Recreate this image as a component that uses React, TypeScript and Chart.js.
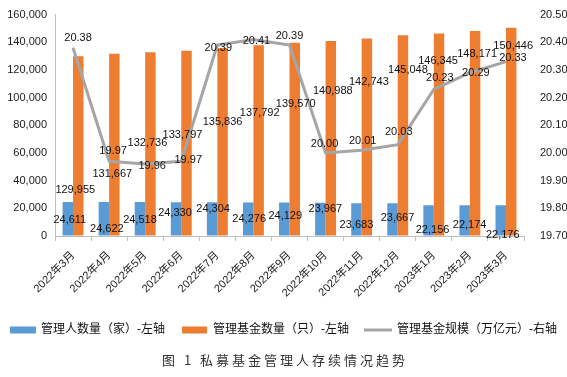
import React, { useEffect, useRef } from 'react';
import { Chart, registerables } from 'chart.js';

Chart.register(...registerables);

const categories = [
  '2022年3月', '2022年4月', '2022年5月', '2022年6月', '2022年7月', '2022年8月', '2022年9月',
  '2022年10月', '2022年11月', '2022年12月', '2023年1月', '2023年2月', '2023年3月',
];
const managerCount = [24611, 24622, 24518, 24330, 24304, 24276, 24129, 23967, 23683, 23667, 22156, 22174, 22176];
const fundCount = [129955, 131667, 132736, 133797, 135836, 137792, 139570, 140988, 142743, 145048, 146345, 148171, 150446];
const fundScale = [20.38, 19.97, 19.96, 19.97, 20.39, 20.41, 20.39, 20.0, 20.01, 20.03, 20.23, 20.29, 20.33];

const seriesNames = ['管理人数量（家）-左轴', '管理基金数量（只）-左轴', '管理基金规模（万亿元）-右轴'];
const titleText = '图 1 私募基金管理人存续情况趋势';

const leftMin = 0;
const leftMax = 160000;
const leftStep = 20000;
const rightMin = 19.7;
const rightMax = 20.5;
const rightStep = 0.1;

// label offsets in px relative to each drawn mark (as placed in the reference)
const managerLabelOffsets: number[][] = [
  [2, 18], [3, 27], [0, 18], [-1, 11], [1, 7], [1, 17], [1, 13], [5, 6], [0, 22], [5, 15], [4, 25], [5, 20], [2, 30],
];
const fundLabelOffsets: number[][] = [
  [-3, 134], [-2, 120], [-3, 91], [-4, 84], [0, 74], [1, 68], [1, 61], [2, 50], [2, 43], [5, 35], [-1, 27], [2, 23], [2, 18],
];
const scaleLabelOffsets: number[][] = [
  [5, -10], [4, -10], [7, 2], [7, -1], [1, 3], [3, 1], [0, -9], [-1, -9], [1, -9], [1, -13], [6, -11], [6, 0], [7, -4],
];

const BLUE = '#5B9BD5';
const ORANGE = '#ED7D31';
const GRAY = '#A5A5A5';
const AXIS = '#BFBFBF';
const TEXT = '#1a1a1a';
const FONT = '"Liberation Sans", Arial, "Noto Sans CJK SC", sans-serif';

const fmtInt = (v: number) => v.toLocaleString('en-US');
const fmt2 = (v: number) => v.toFixed(2);

const decorPlugin = {
  id: 'decor',
  afterDatasetsDraw(chart: any) {
    const ctx = chart.ctx;
    ctx.save();
    ctx.font = '11px ' + FONT;
    ctx.fillStyle = '#111';
    ctx.textAlign = 'center';
    ctx.textBaseline = 'middle';
    const sets = [
      { i: 0, offs: managerLabelOffsets, f: fmtInt },
      { i: 1, offs: fundLabelOffsets, f: fmtInt },
      { i: 2, offs: scaleLabelOffsets, f: fmt2 },
    ];
    sets.forEach((s) => {
      const meta = chart.getDatasetMeta(s.i);
      const data = chart.data.datasets[s.i].data as number[];
      meta.data.forEach((el: any, j: number) => {
        ctx.fillText(s.f(data[j]), el.x + s.offs[j][0], el.y + s.offs[j][1]);
      });
    });
    ctx.restore();
  },
  afterDraw(chart: any) {
    const ctx = chart.ctx;
    ctx.save();
    const ly = 330;
    ctx.font = '12px ' + FONT;
    ctx.fillStyle = '#111';
    ctx.textAlign = 'left';
    ctx.textBaseline = 'middle';
    ctx.fillStyle = BLUE;
    ctx.fillRect(10, ly - 3.5, 26, 7);
    ctx.fillStyle = '#111';
    ctx.fillText(seriesNames[0], 41, ly);
    ctx.fillStyle = ORANGE;
    ctx.fillRect(182, ly - 3.5, 25, 7);
    ctx.fillStyle = '#111';
    ctx.fillText(seriesNames[1], 213, ly);
    ctx.strokeStyle = GRAY;
    ctx.lineWidth = 3;
    ctx.beginPath();
    ctx.moveTo(364, ly);
    ctx.lineTo(392, ly);
    ctx.stroke();
    ctx.fillText(seriesNames[2], 397, ly);
    ctx.font = '13px "Noto Sans CJK SC", sans-serif';
    ctx.fillStyle = '#333';
    ctx.textAlign = 'center';
    try { (ctx as any).letterSpacing = '3px'; } catch (e) {}
    ctx.fillText(titleText, 285, 360);
    ctx.restore();
  },
};

export default function App() {
  const ref = useRef<HTMLCanvasElement | null>(null);
  useEffect(() => {
    if (!ref.current) return;
    const chart = new Chart(ref.current, {
      type: 'bar',
      data: {
        labels: categories,
        datasets: [
          {
            type: 'bar',
            label: seriesNames[0],
            data: managerCount,
            backgroundColor: BLUE,
            yAxisID: 'y',
            barPercentage: 1,
            categoryPercentage: 0.58,
            order: 2,
          },
          {
            type: 'bar',
            label: seriesNames[1],
            data: fundCount,
            backgroundColor: ORANGE,
            yAxisID: 'y',
            barPercentage: 1,
            categoryPercentage: 0.58,
            order: 2,
          },
          {
            type: 'line',
            label: seriesNames[2],
            data: fundScale,
            borderColor: GRAY,
            borderWidth: 3,
            pointRadius: 0,
            tension: 0,
            yAxisID: 'y1',
            order: 0,
          } as any,
        ],
      },
      options: {
        responsive: false,
        maintainAspectRatio: false,
        animation: false,
        layout: { padding: { top: 12, left: 0, right: 0, bottom: 0 } },
        plugins: {
          legend: { display: false },
          tooltip: { enabled: false },
          title: { display: false },
        },
        scales: {
          x: {
            offset: true,
            grid: {
              display: true,
              offset: true,
              drawOnChartArea: false,
              drawTicks: true,
              tickLength: 5,
              color: AXIS,
            },
            border: { display: true, color: AXIS },
            ticks: {
              autoSkip: false,
              minRotation: 45,
              maxRotation: 45,
              color: TEXT,
              font: { size: 11, family: FONT },
              padding: 8,
            },
            afterFit: (s: any) => { s.height = 377 - 236; },
          },
          y: {
            position: 'left',
            min: leftMin,
            max: leftMax,
            ticks: {
              stepSize: leftStep,
              color: TEXT,
              font: { size: 11, family: FONT },
              padding: 8,
              callback: (v: any) => fmtInt(Number(v)),
            },
            grid: { display: true, drawOnChartArea: false, drawTicks: false },
            border: { display: true, color: AXIS },
            afterFit: (s: any) => { s.width = 55; },
          },
          y1: {
            position: 'right',
            min: rightMin,
            max: rightMax,
            ticks: {
              stepSize: rightStep,
              color: TEXT,
              font: { size: 11, family: FONT },
              padding: 8,
              callback: (v: any) => fmt2(Number(v)),
            },
            grid: { display: false },
            border: { display: false },
            afterFit: (s: any) => { s.width = 567 - 524; },
          },
        },
      },
      plugins: [decorPlugin],
    });
    return () => chart.destroy();
  }, []);
  return (
    <div style={{ position: 'fixed', left: 0, top: 0, width: 567, height: 377, background: '#fff' }}>
      <canvas ref={ref} width={567} height={377} style={{ display: 'block' }} />
    </div>
  );
}
